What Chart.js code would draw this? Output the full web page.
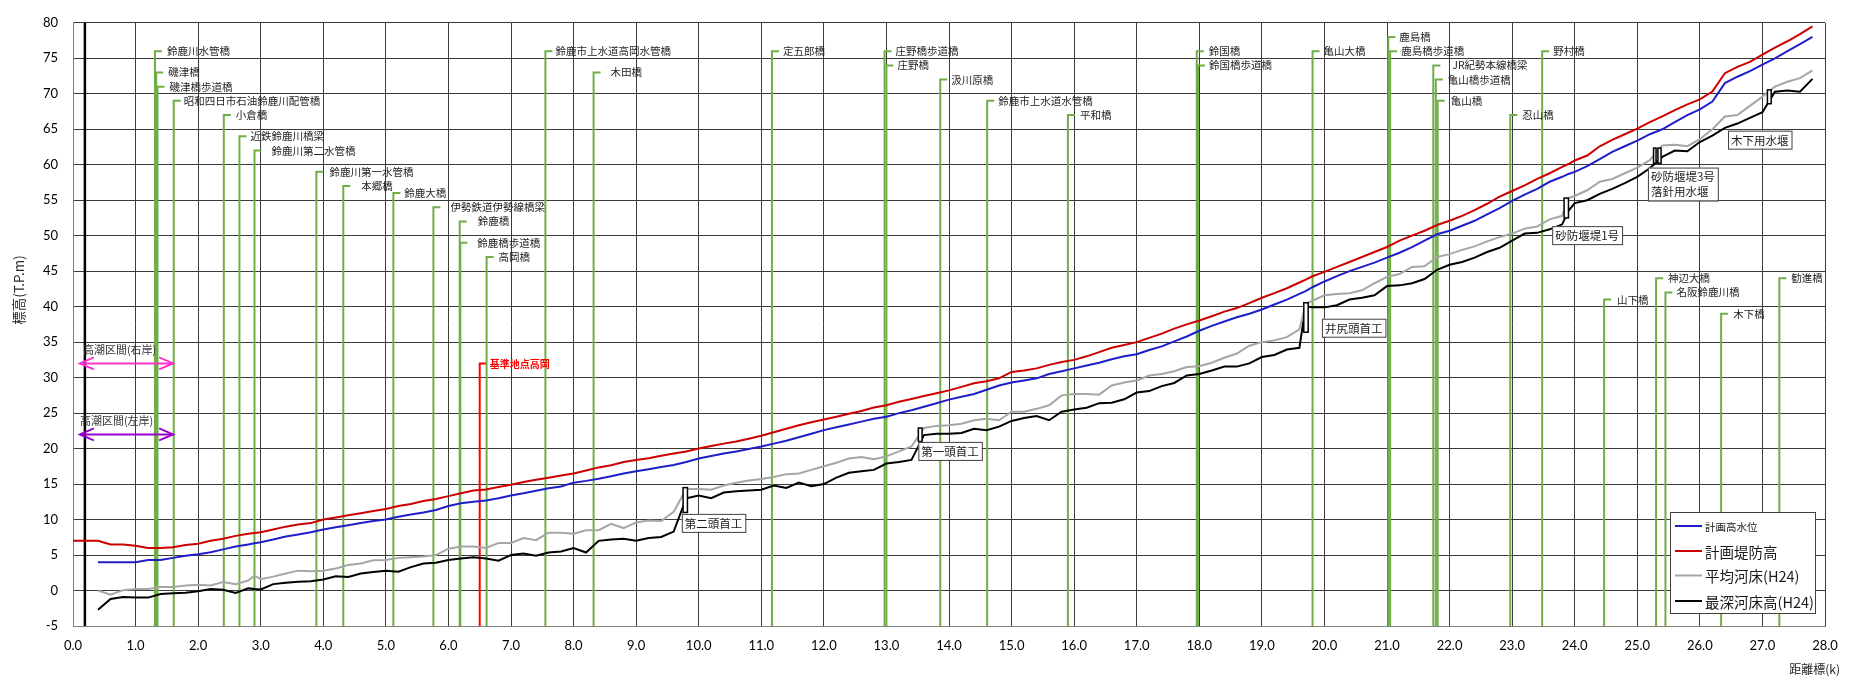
<!DOCTYPE html>
<html lang="ja">
<head>
<meta charset="utf-8">
<title>鈴鹿川 縦断図</title>
<script src="https://cdn.jsdelivr.net/npm/chart.js"></script>
<style>
  body { margin: 0; background: #fff; }
  #wrap { width: 1852px; height: 680px; }
</style>
</head>
<body>
<div id="wrap"><canvas id="profile" width="1852" height="680"></canvas></div>
<script>
  // 距離標 (k) : 0.2k 毎 + 堰付近の補助点
  const distK = [
    0.0, 0.2, 0.4, 0.6, 0.8, 1.0, 1.2, 1.4, 1.6, 1.8,
    2.0, 2.2, 2.4, 2.6, 2.8, 2.9, 3.0, 3.2, 3.4, 3.6, 3.8,
    4.0, 4.2, 4.4, 4.6, 4.8, 5.0, 5.2, 5.4, 5.6, 5.8,
    6.0, 6.2, 6.4, 6.6, 6.8, 7.0, 7.2, 7.4, 7.6, 7.8,
    8.0, 8.2, 8.4, 8.6, 8.8, 9.0, 9.2, 9.4, 9.6, 9.8,
    10.0, 10.2, 10.4, 10.6, 10.8, 11.0, 11.2, 11.4, 11.6, 11.8,
    12.0, 12.2, 12.4, 12.6, 12.8, 13.0, 13.2, 13.4, 13.6, 13.8,
    14.0, 14.2, 14.4, 14.6, 14.8, 15.0, 15.2, 15.4, 15.6, 15.8,
    16.0, 16.2, 16.4, 16.6, 16.8, 17.0, 17.2, 17.4, 17.6, 17.8,
    18.0, 18.2, 18.4, 18.6, 18.8, 19.0, 19.2, 19.4, 19.6, 19.7, 19.8,
    20.0, 20.2, 20.4, 20.6, 20.8, 21.0, 21.2, 21.4, 21.6, 21.8,
    22.0, 22.2, 22.4, 22.6, 22.8, 23.0, 23.2, 23.4, 23.6, 23.8, 23.9,
    24.0, 24.2, 24.4, 24.6, 24.8, 25.0, 25.2, 25.4, 25.6, 25.8,
    26.0, 26.2, 26.4, 26.6, 26.8, 27.0, 27.2, 27.4, 27.6, 27.8
  ];

  // 計画高水位
  const hwl = [
    null, null, 4.0, 4.0, 4.0, 4.0, 4.3, 4.3, 4.6, 4.9,
    5.1, 5.4, 5.8, 6.2, 6.5, 6.65, 6.8, 7.2, 7.6, 7.9, 8.2,
    8.6, 8.9, 9.2, 9.5, 9.8, 10.0, 10.4, 10.7, 11.0, 11.35,
    11.9, 12.3, 12.5, 12.7, 13.0, 13.4, 13.7, 14.05, 14.4, 14.65,
    15.2, 15.45, 15.75, 16.1, 16.5, 16.8, 17.1, 17.4, 17.7, 18.1,
    18.6, 18.95, 19.3, 19.6, 19.95, 20.3, 20.7, 21.1, 21.6, 22.1,
    22.6, 23.0, 23.4, 23.8, 24.2, 24.5, 25.0, 25.4, 25.9, 26.4,
    26.9, 27.3, 27.7, 28.3, 28.9, 29.3, 29.6, 29.9, 30.5, 30.9,
    31.3, 31.7, 32.1, 32.6, 33.0, 33.3, 33.9, 34.4, 35.1, 35.8,
    36.6, 37.3, 37.9, 38.5, 39.0, 39.6, 40.3, 41.0, 41.8, 42.2, 42.7,
    43.55, 44.3, 45.0, 45.6, 46.2, 46.9, 47.6, 48.4, 49.3, 50.2,
    50.7, 51.4, 52.1, 53.0, 53.9, 54.9, 55.8, 56.6, 57.6, 58.3, 58.7,
    59.0, 59.8, 60.8, 61.8, 62.6, 63.4, 64.3, 65.0, 66.0, 67.0,
    67.8, 68.9, 71.5, 72.4, 73.2, 74.1, 75.0, 76.0, 77.0, 78.0
  ];

  // 計画堤防高
  const levee = [
    7.0, 7.0, 7.0, 6.5, 6.5, 6.3, 6.0, 6.0, 6.1, 6.4,
    6.6, 7.0, 7.3, 7.7, 8.0, 8.1, 8.2, 8.6, 9.0, 9.3, 9.5,
    10.0, 10.3, 10.6, 10.9, 11.2, 11.5, 11.9, 12.2, 12.6, 12.9,
    13.3, 13.7, 14.1, 14.25, 14.6, 14.9, 15.3, 15.6, 15.9, 16.2,
    16.5, 16.9, 17.35, 17.65, 18.1, 18.4, 18.65, 19.0, 19.3, 19.6,
    20.0, 20.35, 20.7, 21.0, 21.4, 21.8, 22.3, 22.8, 23.3, 23.7,
    24.1, 24.5, 24.9, 25.3, 25.8, 26.1, 26.6, 27.0, 27.4, 27.8,
    28.2, 28.7, 29.2, 29.5, 29.9, 30.8, 31.0, 31.3, 31.8, 32.2,
    32.5, 33.0, 33.6, 34.2, 34.6, 35.0, 35.6, 36.2, 36.9, 37.5,
    38.05, 38.65, 39.3, 39.8, 40.5, 41.25, 41.9, 42.6, 43.4, 43.8, 44.25,
    44.9, 45.6, 46.3, 47.0, 47.7, 48.4, 49.3, 50.0, 50.7, 51.5,
    52.1, 52.8, 53.6, 54.5, 55.5, 56.3, 57.1, 58.0, 58.8, 59.7, 60.1,
    60.6, 61.3, 62.6, 63.5, 64.3, 65.1, 66.0, 66.8, 67.7, 68.5,
    69.2, 70.3, 72.9, 73.8, 74.5, 75.5, 76.5, 77.4, 78.4, 79.5
  ];

  // 平均河床(H24)
  const meanBed = [
    null, null, 0.0, -0.6, 0.05, 0.2, 0.2, 0.5, 0.5, 0.7,
    0.8, 0.7, 1.2, 0.9, 1.4, 2.1, 1.6, 1.96, 2.4, 2.8, 2.7,
    2.8, 3.1, 3.6, 3.8, 4.26, 4.3, 4.6, 4.7, 4.8, 5.0,
    5.9, 6.2, 6.2, 6.0, 6.7, 6.7, 7.4, 7.1, 8.15, 8.15,
    8.0, 8.5, 8.5, 9.4, 8.8, 9.6, 9.85, 9.8, 11.1, 14.3,
    14.3, 14.2, 14.8, 15.2, 15.5, 15.7, 16.0, 16.4, 16.5, 17.0,
    17.5, 18.0, 18.6, 18.8, 18.5, 18.9, 19.6, 20.3, 22.9, 23.2,
    23.3, 23.5, 24.0, 24.2, 24.0, 25.2, 25.2, 25.6, 26.1, 27.5,
    27.7, 27.7, 27.6, 28.9, 29.3, 29.6, 30.3, 30.5, 30.9, 31.5,
    31.6, 32.1, 32.8, 33.4, 34.5, 35.0, 35.25, 35.7, 36.8, 40.4, 40.8,
    41.6, 41.8, 41.9, 42.3, 43.3, 44.2, 44.6, 45.6, 45.7, 47.0,
    47.4, 48.0, 48.5, 49.2, 49.8, 50.3, 51.0, 51.3, 52.3, 52.8, 55.3,
    55.6, 56.4, 57.6, 58.0, 58.8, 59.6, 60.65, 62.7, 62.8, 62.6,
    63.6, 65.0, 66.8, 67.0, 68.3, 69.6, 71.0, 71.7, 72.2, 73.3
  ];

  // 最深河床高(H24)
  const deepBed = [
    null, null, -2.7, -1.2, -0.9, -1.0, -1.0, -0.5, -0.4, -0.3,
    -0.1, 0.2, 0.1, -0.35, 0.3, 0.2, 0.15, 0.9, 1.1, 1.25, 1.3,
    1.56, 2.0, 1.9, 2.4, 2.6, 2.8, 2.65, 3.3, 3.8, 3.9,
    4.3, 4.5, 4.7, 4.5, 4.2, 5.0, 5.2, 4.9, 5.35, 5.5,
    6.0, 5.35, 7.0, 7.2, 7.3, 7.0, 7.4, 7.55, 8.3, 13.0,
    13.4, 13.0, 13.8, 14.0, 14.1, 14.2, 14.8, 14.45, 15.2, 14.7,
    15.0, 15.9, 16.6, 16.8, 17.0, 17.9, 18.1, 18.4, 21.9, 22.1,
    22.1, 22.2, 22.8, 22.6, 23.1, 23.9, 24.3, 24.6, 24.0, 25.2,
    25.5, 25.75, 26.4, 26.45, 26.95, 27.9, 28.1, 28.8, 29.25, 30.3,
    30.5, 31.0, 31.55, 31.55, 32.0, 32.9, 33.2, 33.95, 34.2, 40.1, 39.9,
    39.9, 40.2, 41.0, 41.25, 41.6, 42.9, 43.0, 43.3, 43.9, 45.2,
    45.9, 46.3, 46.9, 47.7, 48.3, 49.3, 50.3, 50.4, 50.9, 51.6, 53.5,
    54.6, 55.0, 55.9, 56.6, 57.4, 58.3, 59.5, 61.1, 62.0, 61.9,
    63.2, 64.1, 65.2, 65.8, 66.6, 67.4, 70.3, 70.45, 70.3, 72.1
  ];

  const xTicksMin = 0, xTicksMax = 28, xStep = 1;
  const yTicksMin = -5, yTicksMax = 80, yStep = 5;

  // 橋梁
  const bridgeNames = [
    '鈴鹿川水管橋', '磯津橋', '磯津橋歩道橋', '昭和四日市石油鈴鹿川配管橋', '小倉橋',
    '近鉄鈴鹿川橋梁', '鈴鹿川第二水管橋', '鈴鹿川第一水管橋', '本郷橋', '鈴鹿大橋',
    '伊勢鉄道伊勢線橋梁', '鈴鹿橋', '鈴鹿橋歩道橋', '高岡橋', '鈴鹿市上水道高岡水管橋',
    '木田橋', '定五郎橋', '庄野橋歩道橋', '庄野橋', '汲川原橋',
    '鈴鹿市上水道水管橋', '平和橋', '鈴国橋', '鈴国橋歩道橋', '亀山大橋',
    '鹿島橋', '鹿島橋歩道橋', 'JR紀勢本線橋梁', '亀山橋歩道橋', '亀山橋',
    '忍山橋', '野村橋', '山下橋', '神辺大橋', '名阪鈴鹿川橋',
    '木下橋', '勧進橋'
  ];
  const bridgeKm = [
    1.31, 1.33, 1.35, 1.61, 2.41,
    2.66, 2.90, 3.89, 4.32, 5.12,
    5.76, 6.18, 6.19, 6.61, 7.55,
    8.32, 11.17, 12.97, 13.00, 13.86,
    14.61, 15.90, 17.96, 17.98, 19.81,
    21.02, 21.05, 21.74, 21.78, 21.81,
    22.97, 23.48, 24.47, 25.30, 25.45,
    26.34, 27.27
  ];
  const bridgeTop = [
    76, 73, 71, 69, 67,
    64, 62, 59, 57, 56,
    54, 52, 49, 47, 76,
    73, 76, 76, 74, 72,
    69, 67, 76, 74, 76,
    78, 76, 74, 72, 69,
    67, 76, 41, 44, 42,
    39, 44
  ];
  // ラベルの横ずれ (px)
  const labelShift = [
    12, 12, 12, 10, 12,
    11, 17, 13, 18, 11,
    17, 18, 17, 12, 10,
    17, 11, 11, 11, 11,
    11, 12, 12, 11, 11,
    11, 11, 19, 12, 13,
    12, 11, 13, 12, 11,
    12, 12
  ];

  // 堰
  const weirNames = [['第二頭首工'], ['第一頭首工'], ['井尻頭首工'], ['砂防堰堤1号'], ['砂防堰堤3号', '落針用水堰'], ['木下用水堰']];
  const weirFromKm = [9.75, 13.51, 19.67, 23.83, 25.26, 27.08];
  const weirToKm = [9.82, 13.57, 19.74, 23.90, 25.30, 27.14];
  const weirBase = [11.0, 21.0, 36.4, 52.5, 60.2, 68.6];
  const weirCrest = [14.5, 22.9, 40.55, 55.3, 62.35, 70.55];
  const weirLabelKm = [9.73, 13.51, 19.96, 23.64, 25.17, 26.45];
  const weirLabelY = [10.8, 20.94, 38.3, 51.35, 59.6, 64.8];
  const extraWeirKm = [25.33, 25.38]; // 砂防堰堤3号の二本目

  // 基準地点 / 河口側の線 / 高潮区間
  const refName = '基準地点高岡', refKm = 6.5, refTop = 32;
  const mouthKm = 0.19;
  const tideNames = ['高潮区間(右岸)', '高潮区間(左岸)'];
  const tideY = [32, 22];
  const tideFromKm = 0.11, tideToKm = 1.60;

  const JP = "'Noto Sans CJK JP', 'Noto Sans', sans-serif";
  const NUM = "Lato, 'Liberation Sans', sans-serif";

  function pts(vals) {
    return distK.map((d, i) => ({ x: d, y: vals[i] })).filter(p => p.y !== null);
  }

  function arrowHead(ctx, x, y, dir) {
    ctx.beginPath();
    ctx.moveTo(x - dir * 14, y - 6);
    ctx.lineTo(x, y);
    ctx.lineTo(x - dir * 14, y + 6);
    ctx.stroke();
  }

  const overlay = {
    id: 'overlay',
    beforeDatasetsDraw(chart) {
      const { ctx, chartArea: a, scales: { x, y } } = chart;
      ctx.save();
      // 河口側の太線
      ctx.strokeStyle = '#000';
      ctx.lineWidth = 2.5;
      ctx.beginPath();
      ctx.moveTo(x.getPixelForValue(mouthKm), a.top);
      ctx.lineTo(x.getPixelForValue(mouthKm), a.bottom);
      ctx.stroke();

      // 橋梁の縦線
      ctx.strokeStyle = '#70AD47';
      ctx.lineWidth = 2;
      bridgeKm.forEach((k, i) => {
        const px = x.getPixelForValue(k);
        const top = y.getPixelForValue(bridgeTop[i]);
        ctx.beginPath();
        ctx.moveTo(px, a.bottom);
        ctx.lineTo(px, top);
        ctx.lineTo(px + 7, top);
        ctx.stroke();
      });

      // 基準地点
      const rx = x.getPixelForValue(refKm), ry = y.getPixelForValue(refTop);
      ctx.strokeStyle = '#FF0000';
      ctx.beginPath();
      ctx.moveTo(rx, a.bottom);
      ctx.lineTo(rx, ry);
      ctx.lineTo(rx + 6, ry);
      ctx.stroke();

      // 高潮区間の矢印
      const tideColors = ['#FF33CC', '#9900CC'];
      tideY.forEach((v, i) => {
        const yy = y.getPixelForValue(v);
        const x0 = x.getPixelForValue(tideFromKm), x1 = x.getPixelForValue(tideToKm);
        ctx.strokeStyle = tideColors[i];
        ctx.lineWidth = 2;
        ctx.beginPath();
        ctx.moveTo(x0, yy);
        ctx.lineTo(x1, yy);
        ctx.stroke();
        arrowHead(ctx, x0, yy, -1);
        arrowHead(ctx, x1, yy, 1);
      });
      ctx.restore();
    },
    afterDatasetsDraw(chart) {
      const { ctx, chartArea: a, scales: { x, y } } = chart;
      ctx.save();

      // 堰
      const rects = weirFromKm.map((k, i) => [k, weirToKm[i], weirBase[i], weirCrest[i]]);
      rects.push([extraWeirKm[0], extraWeirKm[1], weirBase[4], weirCrest[4]]);
      ctx.lineWidth = 1.5;
      ctx.strokeStyle = '#000';
      ctx.fillStyle = '#fff';
      rects.forEach(r => {
        const l = x.getPixelForValue(r[0]), rr = x.getPixelForValue(r[1]);
        const t = y.getPixelForValue(r[3]), b = y.getPixelForValue(r[2]);
        ctx.fillRect(l, t, rr - l, b - t);
        ctx.strokeRect(l, t, rr - l, b - t);
      });

      // 堰のラベル
      ctx.font = '11.5px ' + JP;
      ctx.textBaseline = 'middle';
      ctx.textAlign = 'left';
      weirNames.forEach((lines, i) => {
        const bx = x.getPixelForValue(weirLabelKm[i]);
        const by = y.getPixelForValue(weirLabelY[i]);
        const w = Math.max(...lines.map(s => ctx.measureText(s).width)) + 6;
        const h = lines.length * 15 + 3;
        ctx.fillStyle = '#fff';
        ctx.fillRect(bx, by, w, h);
        ctx.strokeStyle = '#404040';
        ctx.lineWidth = 1;
        ctx.strokeRect(bx + 0.5, by + 0.5, w, h);
        ctx.fillStyle = '#1a1a1a';
        lines.forEach((s, j) => ctx.fillText(s, bx + 3, by + 9.5 + j * 15));
      });

      // 橋梁名
      ctx.font = '10.5px ' + JP;
      ctx.fillStyle = '#1f1f1f';
      bridgeNames.forEach((n, i) => {
        const px = x.getPixelForValue(bridgeKm[i]);
        ctx.fillText(n, px + labelShift[i], y.getPixelForValue(bridgeTop[i]));
      });

      // 基準地点名
      ctx.fillStyle = '#FF0000';
      ctx.font = 'bold 10px ' + JP;
      ctx.fillText(refName, x.getPixelForValue(refKm) + 10, y.getPixelForValue(refTop) + 1);

      // 高潮区間名
      ctx.fillStyle = '#333';
      ctx.font = '11px ' + JP;
      tideNames.forEach((n, i) => {
        ctx.fillText(n, x.getPixelForValue(tideFromKm) + (i === 0 ? 3 : 0), y.getPixelForValue(tideY[i]) - 14);
      });

      // 凡例
      const lw = 145, lh = 101;
      const lx = a.right - 10 - lw, ly = a.bottom - 13 - lh;
      ctx.fillStyle = '#fff';
      ctx.fillRect(lx, ly, lw, lh);
      ctx.strokeStyle = '#404040';
      ctx.lineWidth = 1;
      ctx.strokeRect(lx + 0.5, ly + 0.5, lw, lh);
      const rowY = [14, 39, 63.5, 89];
      const rowFont = [10.5, 14.5, 14.5, 14.5];
      chart.data.datasets.forEach((ds, i) => {
        const yy = ly + rowY[i];
        ctx.strokeStyle = ds.borderColor;
        ctx.lineWidth = 2;
        ctx.beginPath();
        ctx.moveTo(lx + 5, yy);
        ctx.lineTo(lx + 32, yy);
        ctx.stroke();
        ctx.fillStyle = '#1a1a1a';
        ctx.font = rowFont[i] + 'px ' + JP;
        ctx.fillText(ds.label, lx + 35, yy + 1);
      });

      // 軸タイトル
      ctx.fillStyle = '#262626';
      ctx.font = '12px ' + JP;
      ctx.textAlign = 'right';
      ctx.fillText('距離標(k)', chart.width - 12, 669);
      ctx.save();
      ctx.translate(19, 290);
      ctx.rotate(-Math.PI / 2);
      ctx.textAlign = 'center';
      ctx.font = '13.5px ' + JP;
      ctx.fillText('標高(T.P.m)', 0, 0);
      ctx.restore();

      ctx.restore();
    }
  };

  Chart.defaults.font.family = JP;

  new Chart(document.getElementById('profile'), {
    type: 'line',
    data: {
      datasets: [
        { label: '計画高水位', data: pts(hwl), borderColor: '#1F1FC8' },
        { label: '計画堤防高', data: pts(levee), borderColor: '#CC0000' },
        { label: '平均河床(H24)', data: pts(meanBed), borderColor: '#A6A6A6' },
        { label: '最深河床高(H24)', data: pts(deepBed), borderColor: '#000000' }
      ].map(d => Object.assign(d, { borderWidth: 2, pointRadius: 0, tension: 0, fill: false }))
    },
    options: {
      responsive: false,
      animation: false,
      devicePixelRatio: 1,
      layout: { padding: { top: 11, right: 27, left: 0, bottom: 0 } },
      plugins: { legend: { display: false }, tooltip: { enabled: false } },
      scales: {
        x: {
          type: 'linear', min: xTicksMin, max: xTicksMax,
          ticks: { stepSize: xStep, callback: v => v.toFixed(1), color: '#000', padding: 12,
                   font: { family: NUM, size: 13 }, maxRotation: 0, autoSkip: false },
          grid: { color: '#3a3a3a', drawTicks: false },
          border: { color: '#808080' },
          afterFit: s => { s.height = 54; }
        },
        y: {
          min: yTicksMin, max: yTicksMax,
          ticks: { stepSize: yStep, color: '#000', padding: 15, font: { family: NUM, size: 13 } },
          grid: { color: '#3a3a3a', drawTicks: false },
          border: { color: '#808080' },
          afterFit: s => { s.width = 73; }
        }
      }
    },
    plugins: [overlay]
  });
</script>
</body>
</html>
